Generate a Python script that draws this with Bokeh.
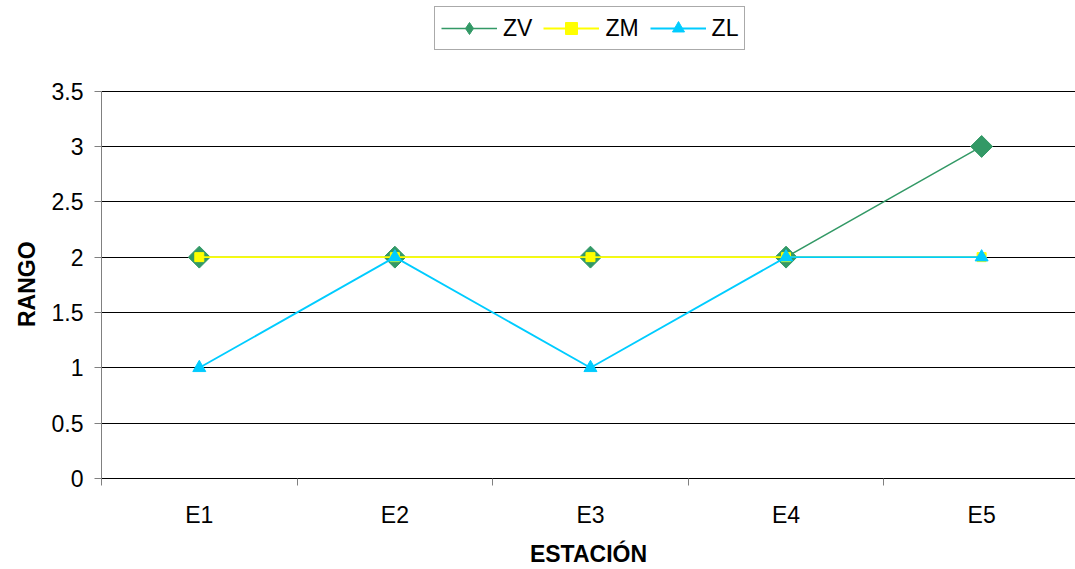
from bokeh.plotting import figure
from bokeh.models import Range1d, FixedTicker, Legend, LegendItem, ColumnDataSource
from bokeh.embed import file_html
from bokeh.resources import INLINE
import math

# Stations and range values per zone
stations = ["E1", "E2", "E3", "E4", "E5"]
zv = [2, 2, 2, 2, 3]
zm = [2, 2, 2, 2, 2]
zl = [1, 2, 1, 2, 2]
y_ticks = [0, 0.5, 1, 1.5, 2, 2.5, 3, 3.5]

FONT = "Liberation Sans"
xs = list(range(len(stations)))

# the frame reaches the top of the canvas so the legend can sit above the axis top
Y_MAX = 3.5
PLOT_H, AXIS_TOP = 480, 91
y_end = Y_MAX * PLOT_H / (PLOT_H - AXIS_TOP)

p = figure(width=1075, height=569, output_backend="svg", toolbar_location=None,
           x_range=Range1d(-0.5, 4.48), y_range=Range1d(0, y_end),
           min_border_left=101, min_border_right=0, min_border_top=0, min_border_bottom=89)
p.outline_line_color = None
p.background_fill_color = "white"
p.border_fill_color = "white"

# x axis: labels at station centres, tick marks between stations
xt = FixedTicker(ticks=xs, minor_ticks=[i - 0.5 for i in range(len(stations) + 1)])
p.xaxis.ticker = xt
p.xaxis.major_label_overrides = {i: s for i, s in enumerate(stations)}
p.xaxis.major_tick_line_color = None
p.xaxis.minor_tick_in = 0
p.xaxis.minor_tick_out = 7
p.xaxis.minor_tick_line_color = "#808080"
p.xaxis.axis_line_color = "#000000"
p.xaxis.major_label_text_font = FONT
p.xaxis.major_label_text_font_size = "23px"
p.xaxis.major_label_text_color = "black"
p.xaxis.major_label_standoff = 16
p.xaxis.axis_label = "ESTACIÓN"
p.xaxis.axis_label_text_font = FONT
p.xaxis.axis_label_text_font_size = "23px"
p.xaxis.axis_label_text_font_style = "bold"
p.xaxis.axis_label_text_color = "black"
p.xaxis.axis_label_standoff = 10

p.yaxis.ticker = FixedTicker(ticks=y_ticks, minor_ticks=[])
p.yaxis.bounds = (0, Y_MAX)
p.yaxis.major_tick_in = 0
p.yaxis.major_tick_out = 7
p.yaxis.major_tick_line_color = "#808080"
p.yaxis.axis_line_color = "#808080"
p.yaxis.major_label_text_font = FONT
p.yaxis.major_label_text_font_size = "23px"
p.yaxis.major_label_text_color = "black"
p.yaxis.major_label_standoff = 11
# trailing no-break spaces keep the title centred on the 0-3.5 span of the axis
p.yaxis.axis_label = "RANGO" + "\u00a0" * 14
p.yaxis.axis_label_text_font = FONT
p.yaxis.axis_label_text_font_size = "23px"
p.yaxis.axis_label_text_font_style = "bold"
p.yaxis.axis_label_text_color = "black"
p.yaxis.axis_label_standoff = 9

p.xgrid.grid_line_color = None
p.ygrid.ticker = FixedTicker(ticks=y_ticks)
p.ygrid.grid_line_color = "#000000"
p.ygrid.grid_line_width = 1

src = ColumnDataSource(dict(x=xs, zv=zv, zm=zm, zl=zl))

zv_line = p.line("x", "zv", source=src, line_color="#339966", line_width=1.5)
# upright diamond used as the legend swatch (legend swatches ignore marker angle);
# it sits entirely inside the rotated squares drawn over it
zv_key = p.scatter("x", "zv", source=src, marker="diamond", size=20,
                   fill_color="#339966", line_color="#339966")
zv_mark = p.scatter("x", "zv", source=src, marker="square", angle=math.pi / 4,
                    size=15.5, fill_color="#339966", line_color="#339966")
zm_line = p.line("x", "zm", source=src, line_color="#FFFF00", line_width=1.8)
zm_mark = p.scatter("x", "zm", source=src, marker="square", size=9,
                    fill_color="#FFFF00", line_color="#FFFF00")
zl_line = p.line("x", "zl", source=src, line_color="#00CCFF", line_width=1.8)
zl_mark = p.scatter("x", "zl", source=src, marker="triangle", size=13,
                    fill_color="#00CCFF", line_color="#00CCFF")

legend = Legend(items=[
    LegendItem(label="ZV", renderers=[zv_line, zv_key]),
    LegendItem(label="ZM", renderers=[zm_line, zm_mark]),
    LegendItem(label="ZL", renderers=[zl_line, zl_mark]),
], orientation="horizontal", location=(333, PLOT_H - 52))
legend.label_text_font = FONT
legend.label_text_font_size = "23px"
legend.label_text_color = "black"
legend.glyph_width = 56
legend.glyph_height = 30
legend.label_standoff = 6
legend.spacing = 11
legend.padding = 6
legend.margin = 0
legend.border_line_color = "#555555"
legend.border_line_width = 1
legend.background_fill_alpha = 1
p.add_layout(legend)

open("out.html", "w").write(file_html(p, INLINE))
